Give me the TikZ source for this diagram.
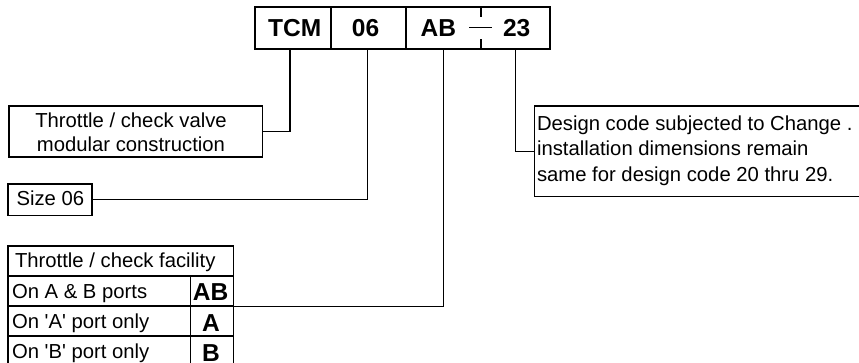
\documentclass[tikz,border=0pt]{standalone}
\usepackage{fontspec}
\setmainfont{Liberation Sans}
\begin{document}
\begin{tikzpicture}[x=0.75pt,y=-0.75pt, line width=0.8pt,
  box/.style={draw, rectangle, inner sep=0pt},
  txt/.style={inner sep=0pt, anchor=base, font=\fontsize{15.2}{18}\selectfont},
  txtl/.style={txt, anchor=base west},
  bold/.style={inner sep=0pt, anchor=base, font=\fontsize{18.4}{22}\selectfont\bfseries},
  lead/.style={draw, line width=0.8pt}]
\useasboundingbox (0,0) rectangle (859,362);
% code box
\node[box, minimum width=57pt, minimum height=31.5pt] (cTCM) at (293,28) {};
\node[box, minimum width=56.25pt, minimum height=31.5pt] (c06) at (368.5,28) {};
\node[box, minimum width=108pt, minimum height=31.5pt] (cAB) at (478,28) {};
\node[bold] (tTCM) at (294.7,36.7) {TCM};
\node[bold] (t06) at (365.5,36.7) {06};
\node[bold] (tAB) at (438.3,36.7) {AB};
\node[bold] (t23) at (516.7,36.7) {23};
\coordinate (k1) at (481,7); \coordinate (k2) at (481,17);
\coordinate (k3) at (481,39); \coordinate (k4) at (481,49);
\coordinate (d1) at (469,27.7); \coordinate (d2) at (492,27.7);
\draw (k1) -- (k2); \draw (k3) -- (k4); \draw (d1) -- (d2);
% valve box
\node[box, minimum width=190pt, minimum height=38.25pt] (valve) at (135.65,131.5) {};
\node[txt] (v1) at (131,127.3) {Throttle / check valve};
\node[txt] (v2) at (131,151.7) {modular construction};
% size box
\node[box, minimum width=63pt, minimum height=23.8pt] (size) at (50,199.85) {};
\node[txtl] (s1) at (16,205) {Size 06};
% design box
\node[box, minimum width=245.8pt, minimum height=67.9pt] (design) at (698.15,151.25) {};
\node[txtl] (e1) at (536.5,130) {Design code subjected to Change .};
\node[txtl] (e2) at (536.5,155.5) {installation dimensions remain};
\node[txtl] (e3) at (536.5,181) {same for design code 20 thru 29.};
% table
\node[box, minimum width=169.1pt, minimum height=22.5pt] (hdr) at (120.75,261) {};
\node[box, minimum width=136.9pt, minimum height=22.5pt] (r1l) at (99.25,291) {};
\node[box, minimum width=32.25pt, minimum height=22.5pt] (r1c) at (212,291) {};
\node[box, minimum width=136.9pt, minimum height=22.5pt] (r2l) at (99.25,321) {};
\node[box, minimum width=32.25pt, minimum height=22.5pt] (r2c) at (212,321) {};
\node[box, minimum width=136.9pt, minimum height=22.5pt] (r3l) at (99.25,351) {};
\node[box, minimum width=32.25pt, minimum height=22.5pt] (r3c) at (212,351) {};
\node[txtl] (h1) at (14.5,267.7) {Throttle / check facility};
\node[txtl] (l1) at (11.5,298) {On A \& B ports};
\node[txtl] (l2) at (11.5,328) {On \textquotesingle A\textquotesingle\ port only};
\node[txtl] (l3) at (11.5,358) {On \textquotesingle B\textquotesingle\ port only};
\node[bold] (b1) at (210.7,300.5) {AB};
\node[bold] (b2) at (211,331) {A};
\node[bold] (b3) at (211,361) {B};
% leaders
\coordinate (p1) at (290,49);
\coordinate (p2) at (367.7,49);
\coordinate (p3) at (443.3,49);
\coordinate (p4) at (515.7,49);
\draw[lead] (p1) |- (valve.east);
\draw[lead] (p2) |- (size.east);
\draw[lead] (p3) |- (r1c.south east);
\draw[lead] (p4) |- (design.west);
\end{tikzpicture}
\end{document}
